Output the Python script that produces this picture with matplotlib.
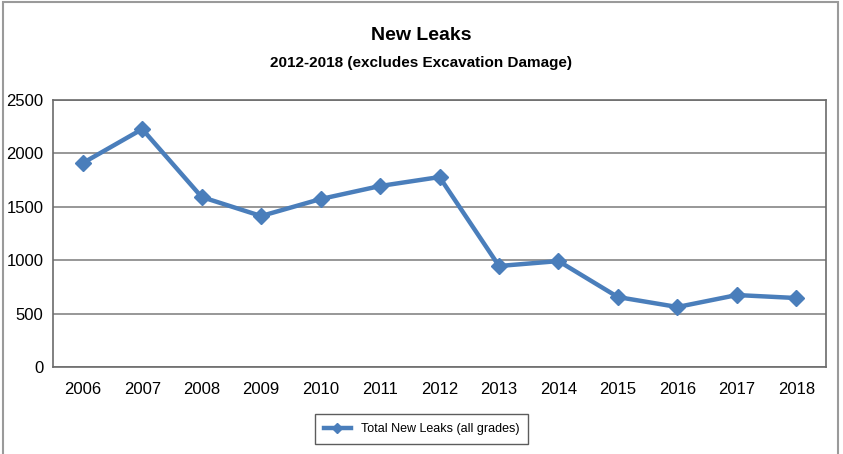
import matplotlib
matplotlib.use("Agg")
import matplotlib.pyplot as plt
from matplotlib.patches import Rectangle

years = ["2006", "2007", "2008", "2009", "2010", "2011", "2012",
         "2013", "2014", "2015", "2016", "2017", "2018"]
new_leaks = [1910, 2228, 1592, 1414, 1573, 1695, 1779, 946, 992, 655, 562, 674, 646]
y_ticks = [0, 500, 1000, 1500, 2000, 2500]

BLUE = "#4a7ebb"
GRID = "#858585"
FRAME = "#9a9a9a"
NARROW = ["Liberation Sans Narrow", "Liberation Sans", "DejaVu Sans"]

fig = plt.figure(figsize=(8.43, 4.54), dpi=100)
fig.patch.set_facecolor("white")

# outer chart border
fig.patches.append(Rectangle((0.004, -0.01), 0.99, 1.005, transform=fig.transFigure,
                             fill=False, edgecolor=FRAME, linewidth=1.5))

ax = fig.add_axes([0.0629, 0.1916, 0.917, 0.588])
x = list(range(len(years)))
ax.plot(x, new_leaks, color=BLUE, linewidth=3.2, marker="D", markersize=8,
        markerfacecolor=BLUE, markeredgecolor=BLUE, label="Total New Leaks (all grades)",
        zorder=3)

ax.set_xlim(-0.5, len(years) - 0.5)
ax.set_ylim(0, 2500)
ax.set_xticks(x)
ax.set_xticklabels(years)
ax.set_yticks(y_ticks)
ax.yaxis.grid(True, color=GRID, linewidth=1.2, zorder=0)
ax.set_axisbelow(True)
ax.tick_params(axis="both", length=0, labelsize=12, colors="black")
ax.tick_params(axis="x", pad=11)
ax.tick_params(axis="y", pad=7)
for lbl in ax.get_xticklabels() + ax.get_yticklabels():
    lbl.set_family(NARROW)
for sp in ax.spines.values():
    sp.set_color("#6b6b6b")
    sp.set_linewidth(1.2)

fig.text(0.5, 0.922, "New Leaks", ha="center", va="center", fontsize=14,
         fontweight="bold", family=NARROW)
fig.text(0.5, 0.862, "2012-2018 (excludes Excavation Damage)", ha="center", va="center",
         fontsize=11, fontweight="bold", family=NARROW)

leg = fig.legend(loc="center", bbox_to_anchor=(0.5, 0.055), frameon=True, fancybox=False,
                 prop={"family": NARROW, "size": 9}, handlelength=2.2,
                 borderpad=0.7, markerscale=0.7)
leg.get_frame().set_edgecolor("#333333")
leg.get_frame().set_linewidth(1.0)

fig.savefig("out.png", dpi=100, facecolor="white")
